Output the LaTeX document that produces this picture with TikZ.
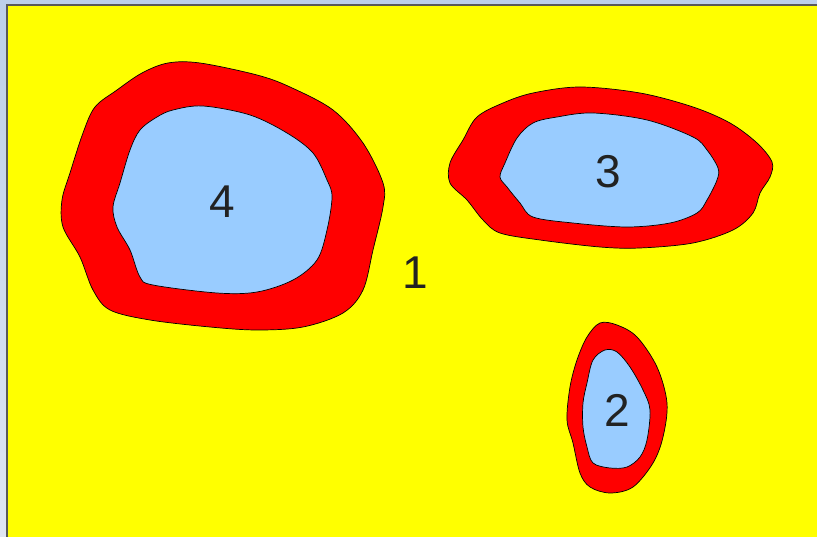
\documentclass[tikz,border=0pt]{standalone}
\usepackage{fontspec}
\setmainfont{Liberation Sans}
\definecolor{lbl}{HTML}{222222}
\definecolor{ground}{HTML}{FFFF00}
\definecolor{ring}{HTML}{FF0000}
\definecolor{lake}{HTML}{99CCFF}
\definecolor{frameA}{HTML}{BDD0EA}
\definecolor{frameB}{HTML}{E0E6F2}
\tikzset{
  region/.style={draw=black, line width=0.7pt, smooth cycle, tension=0.55},
  outerring/.style={region, fill=ring},
  innerlake/.style={region, fill=lake},
  numlabel/.style={font=\fontsize{46}{46}\selectfont, text=lbl, inner sep=0pt}
}
\begin{document}
\begin{tikzpicture}[x=1pt,y=-1pt]
\useasboundingbox (0,0) rectangle (817,537);
\shade[top color=frameA, bottom color=frameB] (0,0) rectangle (817,537);
\fill[ground] (7,5) rectangle (817,537);
\draw[line width=2pt, draw=black!65] (7,537) -- (7,5) -- (817,5);
% region 4
\draw[outerring] plot coordinates {(168,63) (200,63) (257,75) (290,87) (333,110) (363,143) (383,183) (383,207) (373,250) (363,290) (343,313) (303,327) (257,330) (210,327) (150,320) (110,310) (93,290) (80,257) (63,227) (62,200) (70,173) (83,133) (95,107) (117,90) (142,73)};
\draw[innerlake] plot coordinates {(173,110) (203,106) (250,115) (287,133) (313,153) (327,180) (332,197) (327,230) (317,260) (293,280) (257,292) (217,293) (153,285) (140,277) (130,250) (117,227) (113,207) (120,183) (130,150) (140,130) (157,117)};
% region 3
\draw[outerring] plot coordinates {(533,93) (580,87) (640,93) (693,107) (730,123) (757,143) (772,162) (770,177) (760,193) (753,213) (733,230) (693,243) (640,248) (600,247) (540,240) (500,233) (483,220) (467,200) (450,183) (450,163) (463,140) (477,117) (503,103)};
\draw[innerlake] plot coordinates {(533,123) (557,117) (593,113) (647,120) (693,137) (707,150) (718,168) (717,180) (707,200) (697,213) (670,223) (627,227) (573,223) (533,217) (520,203) (507,187) (500,177) (505,163) (517,138)};
% region 2
\draw[outerring] plot coordinates {(600,323) (617,325) (637,337) (657,367) (667,403) (663,437) (653,463) (633,487) (610,493) (590,487) (580,473) (573,443) (567,420) (570,387) (577,360) (587,337)};
\draw[innerlake] plot coordinates {(605,350) (617,352) (630,367) (643,390) (650,410) (647,440) (640,457) (627,467) (610,468) (593,463) (587,447) (583,427) (583,403) (587,383) (593,360)};
% labels
\node[numlabel] (n4) at (222,202) {4};
\node[numlabel] (n3) at (608,172) {3};
\node[numlabel] (n2) at (617,410) {2};
\node[numlabel] (n1) at (415,273) {1};
\end{tikzpicture}
\end{document}
